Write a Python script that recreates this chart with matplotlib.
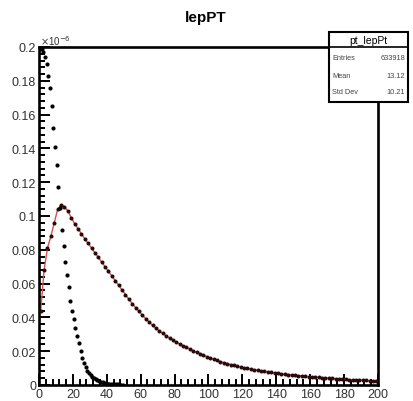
import numpy as np
import matplotlib
matplotlib.use("Agg")
import matplotlib.pyplot as plt
from matplotlib.ticker import MultipleLocator
from matplotlib.patches import Rectangle

plt.rcParams['font.family'] = ['Liberation Sans', 'DejaVu Sans']

# narrow histogram, 1 GeV bins (units of 1e-6)
narrow_x = np.arange(0.5, 50.5, 1.0)
narrow_y = [0.199, 0.199, 0.197, 0.194, 0.190, 0.183, 0.176, 0.165, 0.152, 0.141,
            0.130, 0.117, 0.105, 0.092, 0.082, 0.073, 0.065, 0.058, 0.050, 0.044,
            0.039, 0.034, 0.029, 0.025, 0.020, 0.016, 0.013, 0.0105, 0.0085, 0.0070,
            0.0058, 0.0048, 0.0040, 0.0033, 0.0027, 0.0022, 0.0018, 0.0015, 0.0012, 0.0010,
            0.0008, 0.0007, 0.0006, 0.0005, 0.0004, 0.0003, 0.0003, 0.0002, 0.0002, 0.0001]

# broad histogram, 2 GeV bins
broad_x = np.arange(1.0, 200.0, 2.0)
broad_y = [0.044, 0.068, 0.081, 0.088, 0.096, 0.104, 0.1065, 0.1055, 0.103, 0.099,
           0.0955, 0.0925, 0.0895, 0.0865, 0.0838, 0.0810, 0.0782, 0.0755, 0.0727, 0.0700,
           0.0672, 0.0645, 0.0617, 0.0590, 0.0562, 0.0535, 0.0508, 0.0482, 0.0458, 0.0435,
           0.0413, 0.0392, 0.0372, 0.0353, 0.0336, 0.0320, 0.0305, 0.0291, 0.0278, 0.0266,
           0.0254, 0.0243, 0.0232, 0.0222, 0.0212, 0.0202, 0.0193, 0.0184, 0.0176, 0.0168,
           0.0160, 0.0153, 0.0146, 0.0139, 0.0133, 0.0127, 0.0121, 0.0116, 0.0111, 0.0106,
           0.0102, 0.0098, 0.0094, 0.0090, 0.0087, 0.0083, 0.0080, 0.0077, 0.0074, 0.0071,
           0.0069, 0.0066, 0.0064, 0.0062, 0.0060, 0.0058, 0.0056, 0.0054, 0.0052, 0.0050,
           0.0048, 0.0047, 0.0045, 0.0043, 0.0042, 0.0040, 0.0039, 0.0037, 0.0036, 0.0035,
           0.0033, 0.0032, 0.0031, 0.0030, 0.0029, 0.0028, 0.0027, 0.0026, 0.0025, 0.0024]

stats_labels = ["Entries", "Mean", "Std Dev"]
stats_values = ["633918", "13.12", "10.21"]

fig = plt.figure(figsize=(4.14, 4.02), dpi=100)
ax = fig.add_axes([39/414, 16/402, 339/414, 338/402])

ax.plot(broad_x, broad_y, color='#d85050', lw=1.0, zorder=2)
ax.plot(broad_x, broad_y, 'o', color='#2a0a0a', ms=2.9, mew=0, zorder=3)
ax.plot(narrow_x, narrow_y, 'o', color='black', ms=3.0, mew=0, zorder=3)

ax.set_xlim(0, 200)
ax.set_ylim(0, 0.2)
ax.xaxis.set_major_locator(MultipleLocator(20))
ax.xaxis.set_minor_locator(MultipleLocator(4))
ax.yaxis.set_major_locator(MultipleLocator(0.02))
ax.yaxis.set_minor_locator(MultipleLocator(0.004))
ax.tick_params(which='both', direction='in', top=False, right=False,
               width=1.4, colors='black', labelsize=9, labelcolor='#333333')
ax.tick_params(which='major', length=8, pad=2)
ax.tick_params(which='minor', length=4)
ax.set_xticks(np.arange(0, 201, 20))
ax.set_xticklabels([str(v) for v in range(0, 201, 20)])
ax.set_yticks(np.arange(0, 0.2001, 0.02))
ax.set_yticklabels(['0', '0.02', '0.04', '0.06', '0.08', '0.1',
                    '0.12', '0.14', '0.16', '0.18', '0.2'])
for s in ax.spines.values():
    s.set_linewidth(1.9)

fig.text(40/414, 1 - 46/402, r'$\times$10$^{-6}$', fontsize=7, color='#333333',
         ha='left', va='baseline')
fig.text(206/414, 1 - 18/402, 'lepPT', fontsize=11, fontweight='bold',
         ha='center', va='center')

# stats box
bx0, bx1 = 329/414, 408/414
by0, by1 = 1 - 103/402, 1 - 33/402
fig.patches.append(Rectangle((bx0, by0), bx1 - bx0, by1 - by0, transform=fig.transFigure,
                             facecolor='white', edgecolor='black', lw=1.5, zorder=10))
fig.lines.append(plt.Line2D([bx0, bx1], [1 - 48/402, 1 - 48/402], transform=fig.transFigure,
                            color='black', lw=1.2, zorder=11))
fig.text((bx0 + bx1)/2, 1 - 40.5/402, 'pt_lepPt', fontsize=7.5, ha='center', va='center',
         zorder=12)
rows_y = [59, 76, 93]
for lab, val, yy in zip(stats_labels, stats_values, rows_y):
    fig.text(332/414, 1 - yy/402, lab, fontsize=5.3, color='#444444', ha='left', va='center',
             zorder=12)
    fig.text(405/414, 1 - yy/402, val, fontsize=5.3, color='#444444', ha='right', va='center',
             zorder=12)

fig.savefig('out.png', dpi=100)
